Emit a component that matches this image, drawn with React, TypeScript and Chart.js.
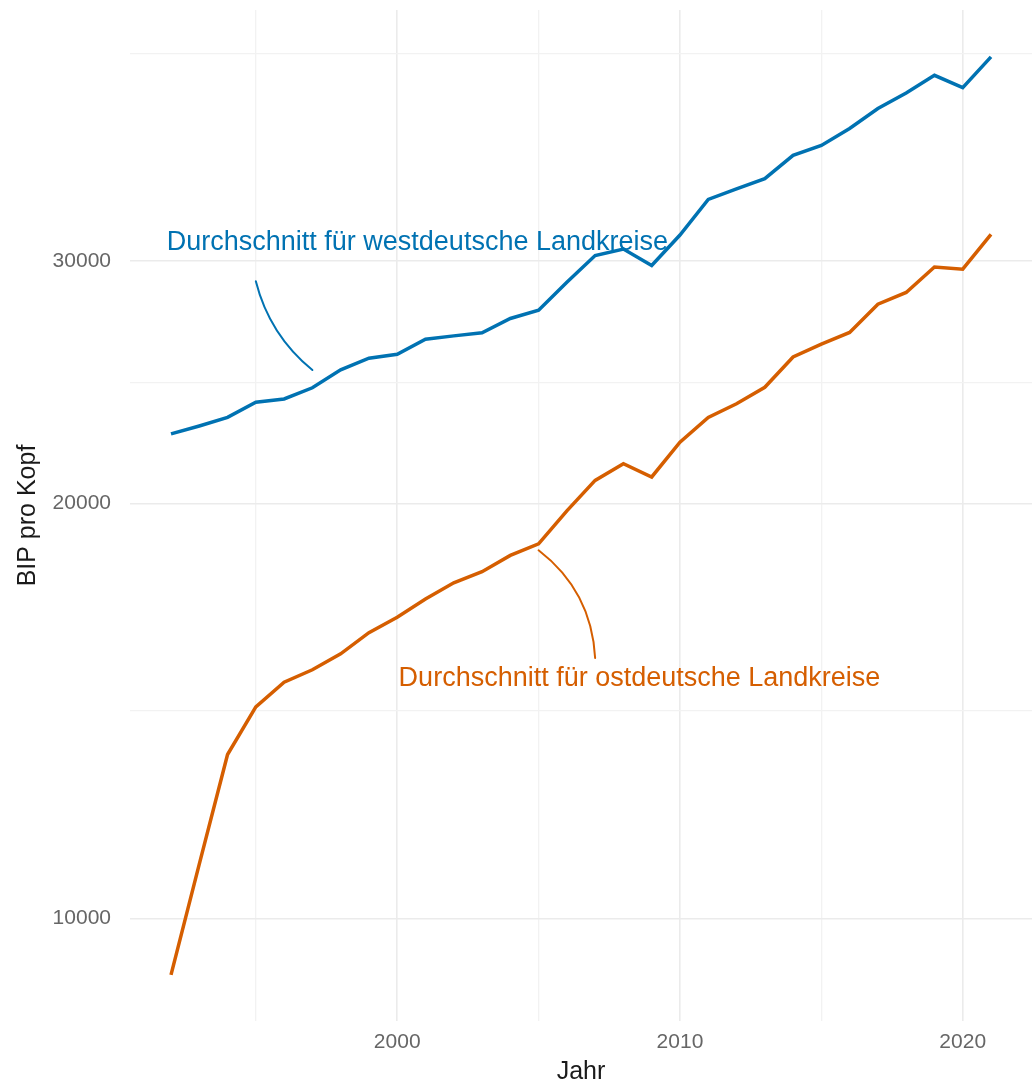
import React, { useEffect, useRef } from "react";
import { Chart, registerables } from "chart.js";

Chart.register(...registerables);

// ---------- data ----------
const years = [
  1992, 1993, 1994, 1995, 1996, 1997, 1998, 1999, 2000, 2001,
  2002, 2003, 2004, 2005, 2006, 2007, 2008, 2009, 2010, 2011,
  2012, 2013, 2014, 2015, 2016, 2017, 2018, 2019, 2020, 2021,
];
const westValues = [
  22470, 22770, 23100, 23690, 23820, 24270, 25010, 25500, 25670, 26320,
  26470, 26610, 27250, 27630, 28950, 30270, 30600, 29770, 31330, 33250,
  33840, 34420, 35790, 36390, 37430, 38700, 39720, 40910, 40080, 42190,
];
const eastValues = [
  9100, 10950, 13150, 14240, 14840, 15150, 15560, 16120, 16540, 17050,
  17520, 17850, 18340, 18700, 19760, 20790, 21380, 20910, 22160, 23100,
  23630, 24290, 25550, 26110, 26620, 27910, 28460, 29700, 29590, 31360,
];
const xMajorTicks = [2000, 2010, 2020];
const xMinorTicks = [1995, 2005, 2015];
const yMajorTicks = [10000, 20000, 30000];
const yMinorTicks = [14142, 24495, 42426];
const xLimits = [1990.55, 2022.45];
const yLimits = [8424, 45630];
const westLabel = "Durchschnitt für westdeutsche Landkreise";
const eastLabel = "Durchschnitt für ostdeutsche Landkreise";
const xTitle = "Jahr";
const yTitle = "BIP pro Kopf";

// ---------- styles ----------
const BLUE = "#0072B2";
const ORANGE = "#D55E00";
const FONT = '"Liberation Sans", Arial, Helvetica, sans-serif';

const annotations = [
  {
    text: westLabel,
    x: 1991.85,
    y: 30530,
    color: BLUE,
    curve: { from: [1995, 29000], to: [1997, 25000], bend: 0.165 },
  },
  {
    text: eastLabel,
    x: 2000.05,
    y: 14735,
    color: ORANGE,
    curve: { from: [2005, 18500], to: [2007, 15450], bend: -0.23 },
  },
];

const annotationPlugin = {
  id: "annotations",
  afterDatasetsDraw(chart: any) {
    const { ctx } = chart;
    const xs = chart.scales.x;
    const ys = chart.scales.y;
    ctx.save();
    for (const a of annotations) {
      const x0 = xs.getPixelForValue(a.curve.from[0]);
      const y0 = ys.getPixelForValue(a.curve.from[1]);
      const x2 = xs.getPixelForValue(a.curve.to[0]);
      const y2 = ys.getPixelForValue(a.curve.to[1]);
      const dx = x2 - x0;
      const dy = y2 - y0;
      const len = Math.hypot(dx, dy);
      const h = a.curve.bend * len;
      const cx = (x0 + x2) / 2 + (-dy / len) * h;
      const cy = (y0 + y2) / 2 + (dx / len) * h;
      ctx.beginPath();
      ctx.moveTo(x0, y0);
      ctx.quadraticCurveTo(cx, cy, x2, y2);
      ctx.strokeStyle = a.color;
      ctx.lineWidth = 2;
      ctx.lineCap = "round";
      ctx.stroke();

      ctx.font = `27px ${FONT}`;
      ctx.fillStyle = a.color;
      ctx.textAlign = "left";
      ctx.textBaseline = "alphabetic";
      ctx.fillText(a.text, xs.getPixelForValue(a.x), ys.getPixelForValue(a.y));
    }
    ctx.restore();
  },
};

export default function App() {
  const canvasRef = useRef<HTMLCanvasElement | null>(null);

  useEffect(() => {
    if (!canvasRef.current) return;
    const chart = new Chart(canvasRef.current, {
      type: "line",
      data: {
        datasets: [
          {
            label: "West",
            data: years.map((yr, i) => ({ x: yr, y: westValues[i] })),
            borderColor: BLUE,
            backgroundColor: BLUE,
            borderWidth: 3.5,
            pointRadius: 0,
            tension: 0,
            fill: false,
          },
          {
            label: "Ost",
            data: years.map((yr, i) => ({ x: yr, y: eastValues[i] })),
            borderColor: ORANGE,
            backgroundColor: ORANGE,
            borderWidth: 3.5,
            pointRadius: 0,
            tension: 0,
            fill: false,
          },
        ],
      },
      options: {
        responsive: false,
        animation: false,
        layout: { padding: { top: 10, right: 4, left: 0, bottom: 0 } },
        plugins: {
          legend: { display: false },
          tooltip: { enabled: false },
        },
        scales: {
          x: {
            type: "linear",
            min: xLimits[0],
            max: xLimits[1],
            bounds: "data",
            afterBuildTicks: (s: any) => {
              s.ticks = [...xMinorTicks, ...xMajorTicks]
                .sort((a, b) => a - b)
                .map((v) => ({ value: v }));
            },
            afterFit: (s: any) => {
              s.height = 62;
              s.paddingLeft = 0;
              s.paddingRight = 0;
              s.paddingTop = 0;
              s.paddingBottom = 0;
            },
            ticks: {
              autoSkip: false,
              maxRotation: 0,
              padding: 9,
              color: "#666666",
              font: { size: 21, family: FONT },
              callback: (v: any) => (xMajorTicks.includes(Number(v)) ? String(v) : ""),
            },
            grid: {
              drawTicks: false,
              color: (c: any) =>
                xMajorTicks.includes(c.tick?.value) ? "#ebebeb" : "#f2f2f2",
              lineWidth: (c: any) => (xMajorTicks.includes(c.tick?.value) ? 1.6 : 1.3),
            },
            border: { display: false },
            title: {
              display: true,
              text: xTitle,
              color: "#1a1a1a",
              font: { size: 25, family: FONT, lineHeight: "22px" },
              padding: { top: 0, bottom: 0 },
            },
          },
          y: {
            type: "logarithmic",
            min: yLimits[0],
            max: yLimits[1],
            bounds: "data",
            afterBuildTicks: (s: any) => {
              s.ticks = [...yMajorTicks, ...yMinorTicks]
                .sort((a, b) => a - b)
                .map((v) => ({ value: v }));
            },
            afterFit: (s: any) => {
              s.width = 130;
              s.paddingLeft = 0;
              s.paddingRight = 0;
              s.paddingTop = 0;
              s.paddingBottom = 0;
            },
            ticks: {
              autoSkip: false,
              padding: 19,
              color: "#666666",
              font: { size: 21, family: FONT },
              callback: (v: any) => (yMajorTicks.includes(Number(v)) ? String(v) : ""),
            },
            grid: {
              drawTicks: false,
              color: (c: any) =>
                yMajorTicks.includes(c.tick?.value) ? "#ebebeb" : "#f2f2f2",
              lineWidth: (c: any) => (yMajorTicks.includes(c.tick?.value) ? 1.6 : 1.3),
            },
            border: { display: false },
            title: {
              display: true,
              text: yTitle,
              color: "#1a1a1a",
              font: { size: 25, family: FONT, lineHeight: "25px" },
              padding: { top: 15.5, bottom: 0 },
            },
          },
        },
      } as any,
      plugins: [annotationPlugin],
    });
    return () => chart.destroy();
  }, []);

  return (
    <div style={{ position: "absolute", left: 0, top: 0, width: 1036, height: 1083, background: "#ffffff" }}>
      <canvas ref={canvasRef} width={1036} height={1083} style={{ display: "block" }} />
    </div>
  );
}
